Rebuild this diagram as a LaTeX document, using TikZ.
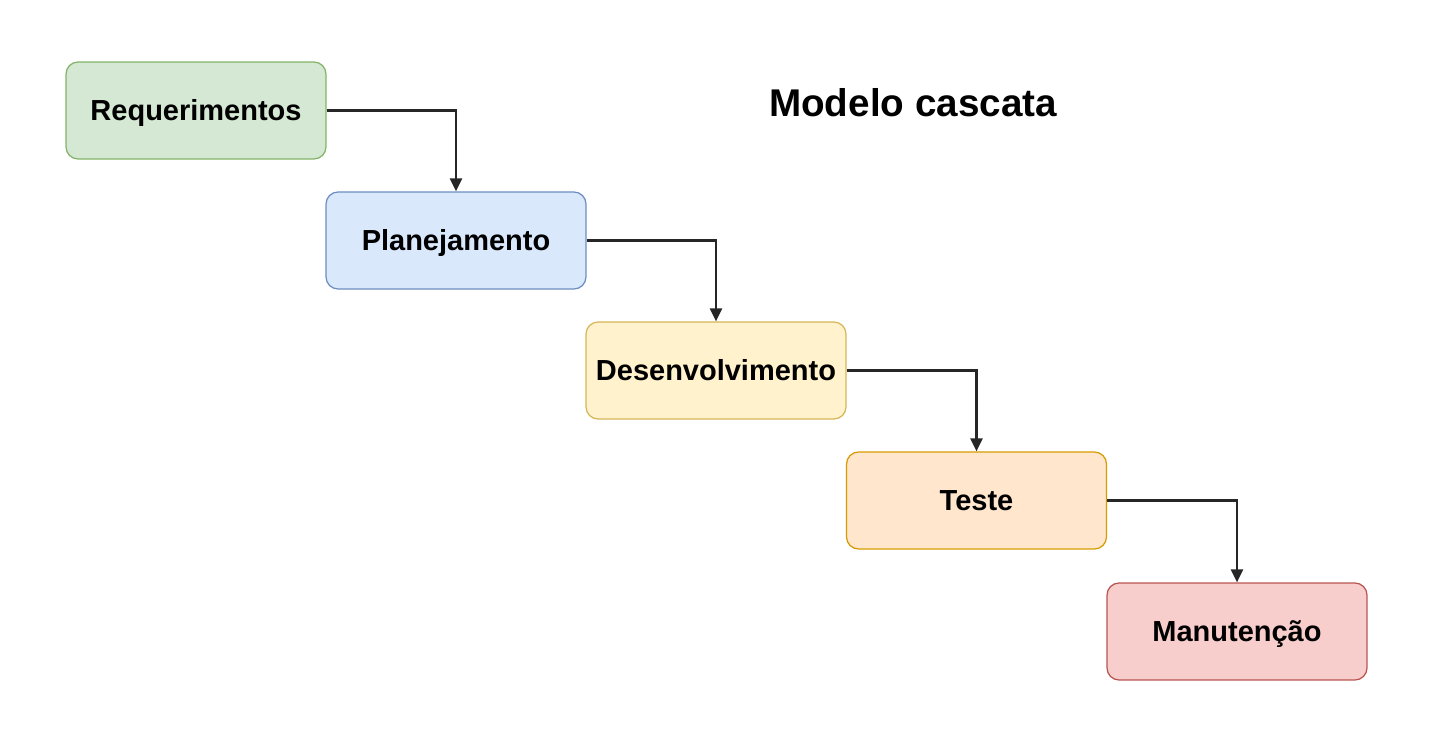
\documentclass[tikz,border=0pt]{standalone}
\usepackage{fontspec}
\setmainfont{Liberation Sans}
\usetikzlibrary{arrows.meta,positioning}
\definecolor{ReqFill}{HTML}{D5E8D4}
\definecolor{ReqLine}{HTML}{82B366}
\definecolor{PlanFill}{HTML}{DAE8FC}
\definecolor{PlanLine}{HTML}{6C8EBF}
\definecolor{DesFill}{HTML}{FFF2CC}
\definecolor{DesLine}{HTML}{D6B656}
\definecolor{TestFill}{HTML}{FFE6CC}
\definecolor{TestLine}{HTML}{D79B00}
\definecolor{ManFill}{HTML}{F8CECC}
\definecolor{ManLine}{HTML}{B85450}
\tikzset{
  phase/.style={draw, rounded corners=0.24cm, minimum width=5.2cm,
    minimum height=1.94cm, line width=0.7pt, font=\bfseries\fontsize{16.5}{19}\selectfont,
    inner sep=0pt, text depth=0pt},
  flow/.style={-{Triangle[length=0.26cm,width=0.24cm]}, line width=1.3pt, black!85}
}
\begin{document}
\begin{tikzpicture}[x=0.02cm,y=-0.02cm]
      \useasboundingbox (0,0) rectangle (1433,742);
      \node[phase,fill=ReqFill,draw=ReqLine] (req) at (196,110.5) {Requerimentos};
      \node[phase,fill=PlanFill,draw=PlanLine] (plan) at (456,240.5) {Planejamento};
      \node[phase,fill=DesFill,draw=DesLine] (des) at (716,370.5) {Desenvolvimento};
      \node[phase,fill=TestFill,draw=TestLine] (teste) at (976.5,500.5) {Teste};
      \node[phase,fill=ManFill,draw=ManLine] (man) at (1237,631.5) {Manutenção};
      \node[font=\bfseries\fontsize{22}{26}\selectfont] (titulo) at (913,103) {Modelo cascata};
      \draw[flow] (req.east) -| (plan.north);
      \draw[flow] (plan.east) -| (des.north);
      \draw[flow] (des.east) -| (teste.north);
      \draw[flow] (teste.east) -| (man.north);
    \end{tikzpicture}
\end{document}
